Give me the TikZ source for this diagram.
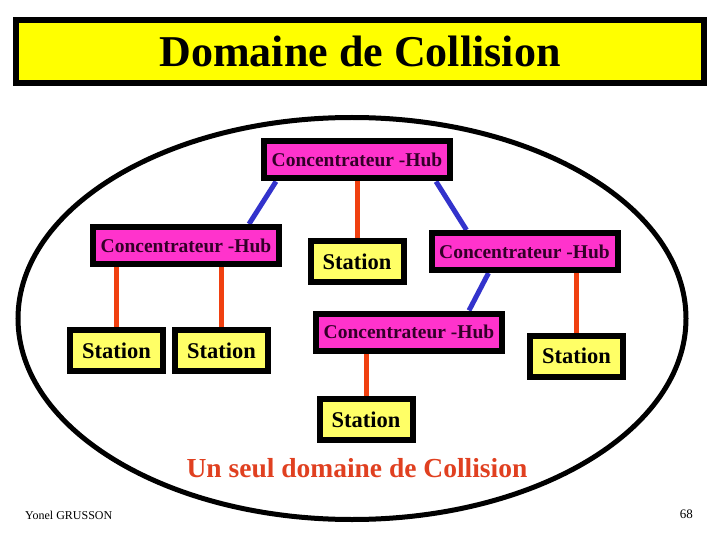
\documentclass[tikz,border=0pt]{standalone}
\usepackage{fontspec}
\setmainfont{Liberation Serif}
\usetikzlibrary{backgrounds}

\definecolor{titlefill}{RGB}{255,255,0}
\definecolor{hubfill}{RGB}{255,51,204}
\definecolor{hubtext}{RGB}{51,0,40}
\definecolor{stafill}{RGB}{255,255,102}
\definecolor{linkred}{RGB}{240,64,16}
\definecolor{linkblue}{RGB}{51,51,204}
\definecolor{subred}{RGB}{224,64,32}

\begin{document}
\begin{tikzpicture}[x=1pt,y=-1pt]

      \useasboundingbox (0,0) rectangle (720,540);

      \node[draw,line width=6.5,fill=titlefill,inner sep=0,minimum width=688,minimum height=63,
            font=\bfseries\fontsize{44}{48}\selectfont] (t) at (360,51.5) {Domaine de Collision};

      \draw[line width=5] (352,318.5) ellipse [x radius=334, y radius=201];

      \begin{scope}[every node/.style={draw,line width=6,fill=hubfill,text=hubtext,inner sep=0,
                    minimum width=186,minimum height=37,font=\bfseries\fontsize{19.5}{22}\selectfont}]
        \node (h1) at (357,160)   {Concentrateur -Hub};
        \node (h2) at (186,245.5) {Concentrateur -Hub};
        \node (h3) at (524.5,251.5) {Concentrateur -Hub};
        \node (h4) at (409,332)   {Concentrateur -Hub};
      \end{scope}

      \begin{scope}[every node/.style={draw,line width=6,fill=stafill,inner sep=0,
                    minimum width=93,minimum height=41,font=\bfseries\fontsize{22.5}{25}\selectfont}]
        \node (s1) at (116.5,350.5) {Station};
        \node (s2) at (221.5,350.5) {Station};
        \node (s3) at (357,261.5)   {Station};
        \node (s4) at (576.5,356)   {Station};
        \node (s5) at (366,419.5)   {Station};
      \end{scope}

      \begin{scope}[on background layer]

        \begin{scope}[every edge/.style={draw,linkblue,line width=5}]
          \path ([xshift=15]h1.south west)  edge ([xshift=-33]h2.north east);
          \path ([xshift=-17]h1.south east) edge ([xshift=38]h3.north west);
          \path ([xshift=60]h3.south west)  edge ([xshift=-36]h4.north east);
        \end{scope}

        \begin{scope}[every edge/.style={draw,linkred,line width=5}]
          \path (h1.south)         edge (s3.north);
          \path (s1.north |- h2.south) edge (s1.north);
          \path (s2.north |- h2.south) edge (s2.north);
          \path (s4.north |- h3.south) edge (s4.north);
          \path (s5.north |- h4.south) edge (s5.north);
        \end{scope}

      \end{scope}

      \node[text=subred,anchor=base,font=\bfseries\fontsize{27.5}{30}\selectfont] (sub) at (357,477) {Un seul domaine de Collision};

      \node[anchor=base west,inner sep=0,font=\fontsize{12}{14}\selectfont] (auth) at (25,519) {Yonel GRUSSON};
      \node[anchor=base east,inner sep=0,font=\fontsize{13}{15}\selectfont] (page) at (693,518) {68};

    \end{tikzpicture}
\end{document}
